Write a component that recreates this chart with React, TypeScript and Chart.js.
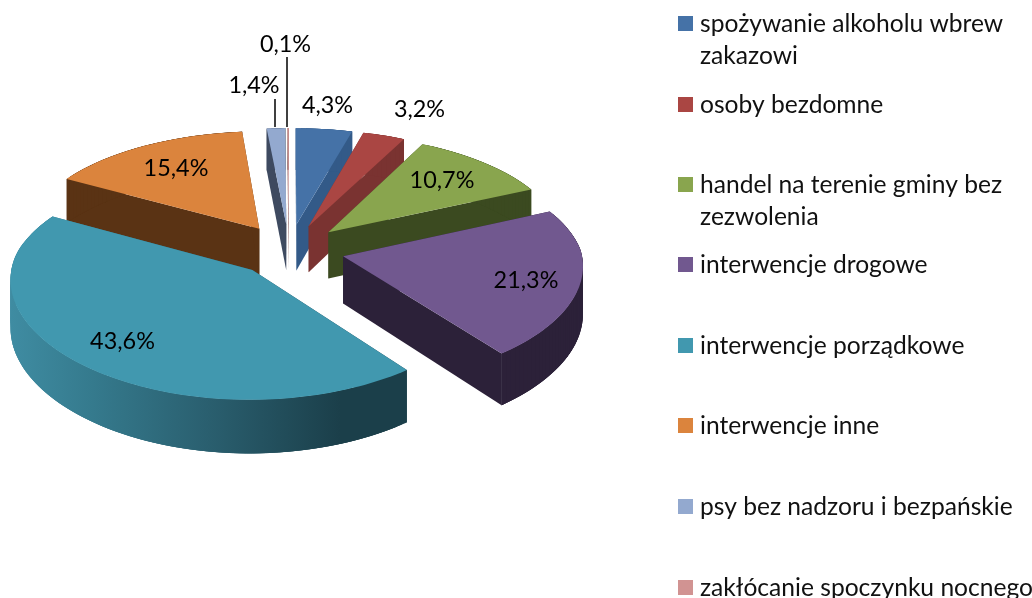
import React, { useEffect, useRef } from "react";
import { Chart, registerables } from "chart.js";

Chart.register(...registerables);

const categories = [
  ["spożywanie alkoholu wbrew", "zakazowi"],
  ["osoby bezdomne"],
  ["handel na terenie gminy bez", "zezwolenia"],
  ["interwencje drogowe"],
  ["interwencje porządkowe"],
  ["interwencje inne"],
  ["psy bez nadzoru i bezpańskie"],
  ["zakłócanie spoczynku nocnego"],
];
const values = [4.3, 3.2, 10.7, 21.3, 43.6, 15.4, 1.4, 0.1];
const topColors = ["#4572A7", "#AA4643", "#89A54E", "#71588F", "#4198AF", "#DB843D", "#93A9CF", "#D19392"];
const wallColors = ["#335A88", "#7A3331", "#3B4A20", "#2C2139", "#1B3F4A", "#5A3314", "#3E4A60", "#8A5F5E"];

// layout of the drawing, kept apart from the data
const LABEL_FONT = '23.4px Lato, "Open Sans", sans-serif';
const LEGEND_FONT = '24.6px Lato, "Open Sans", sans-serif';
const CX = 289, CY = 250, RADIUS = 238, EXPLODE = 55.5, TILT = 0.469, PERSP = 0.00044, PERSP_NEAR_X = 0.0003, DEPTH = 47;
const paintOrder = [6, 7, 5, 0, 1, 2, 3, 4];
const labelPos = [[327.5, 113], [419.5, 117], [442, 188], [526, 288], [122.5, 349], [176, 176], [254, 93], [285.5, 52]];
const leaders = [[275, 99, 127], [287, 57, 127]];
const legendSwatchY = [16, 97, 177, 257, 338, 418, 499, 580];
const legendBaselines = [[32, 64], [113], [193, 225], [273], [354], [434], [515], [596]];

function project(u: number, v: number, z = 0) {
  const s = 1 / (1 + PERSP * v);
  const sx = v < 0 ? 1 / (1 + PERSP_NEAR_X * v) : s;
  return [CX + u * sx, CY - v * s * TILT + z * s];
}

function fillPoly(ctx: CanvasRenderingContext2D, poly: number[][]) {
  ctx.beginPath();
  poly.forEach((P, k) => (k === 0 ? ctx.moveTo(P[0], P[1]) : ctx.lineTo(P[0], P[1])));
  ctx.closePath();
  ctx.fill();
}

const piePlugin = {
  id: "pie3d",
  beforeDatasetsDraw(chart: any) {
    const ctx: CanvasRenderingContext2D = chart.ctx;
    const arcs = chart.getDatasetMeta(0).data;
    for (const i of paintOrder) {
      const a = arcs[i].getProps(["startAngle", "endAngle"], true);
      const t0 = a.startAngle + Math.PI / 2;
      const t1 = a.endAngle + Math.PI / 2;
      const mid = (t0 + t1) / 2;
      const ou = EXPLODE * Math.sin(mid);
      const ov = EXPLODE * Math.cos(mid);
      const rim: number[][] = [];
      const n = Math.max(2, Math.ceil((t1 - t0) * 40));
      for (let k = 0; k <= n; k++) {
        const t = t0 + ((t1 - t0) * k) / n;
        rim.push([ou + RADIUS * Math.sin(t), ov + RADIUS * Math.cos(t)]);
      }
      let wall: any = wallColors[i];
      if (i === 4) {
        const g = ctx.createLinearGradient(10, 0, 340, 0);
        g.addColorStop(0, "#3F8CA2");
        g.addColorStop(0.25, "#357A8D");
        g.addColorStop(0.6, "#2A5F6F");
        g.addColorStop(1, "#1B3F4A");
        wall = g;
      }
      const apex = [ou, ov];
      const first = rim[0];
      const last = rim[rim.length - 1];
      const quad = (p: number[], q: number[]) => [
        project(p[0], p[1]),
        project(q[0], q[1]),
        project(q[0], q[1], DEPTH),
        project(p[0], p[1], DEPTH),
      ];
      ctx.save();
      ctx.fillStyle = wall;
      fillPoly(ctx, quad(apex, first));
      fillPoly(ctx, quad(last, apex));
      // overlapping quads, so the rim wall has no seams and keeps its vertical sides
      for (let k = 0; k < rim.length - 1; k++) {
        fillPoly(ctx, quad(rim[k], rim[Math.min(k + 3, rim.length - 1)]));
      }
      ctx.fillStyle = topColors[i];
      fillPoly(ctx, [apex, ...rim].map((p) => project(p[0], p[1])));
      ctx.restore();
    }
    return false;
  },
  afterDraw(chart: any) {
    const ctx: CanvasRenderingContext2D = chart.ctx;
    ctx.save();
    ctx.font = LABEL_FONT;
    ctx.fillStyle = "#000";
    ctx.textBaseline = "alphabetic";
    ctx.textAlign = "center";
    values.forEach((v, i) => {
      ctx.fillText(v.toFixed(1).replace(".", ",") + "%", labelPos[i][0], labelPos[i][1]);
    });
    ctx.strokeStyle = "#000";
    ctx.lineWidth = 1.5;
    for (const [x, y0, y1] of leaders) {
      ctx.beginPath();
      ctx.moveTo(x, y0);
      ctx.lineTo(x, y1);
      ctx.stroke();
    }
    ctx.textAlign = "left";
    ctx.font = LEGEND_FONT;
    categories.forEach((lines, i) => {
      ctx.fillStyle = topColors[i];
      ctx.fillRect(678, legendSwatchY[i], 15, 15);
      ctx.fillStyle = "#111";
      lines.forEach((line, j) => ctx.fillText(line, 700, legendBaselines[i][j]));
    });
    ctx.restore();
  },
};

export default function App() {
  const ref = useRef<HTMLCanvasElement>(null);
  useEffect(() => {
    const chart = new Chart(ref.current as HTMLCanvasElement, {
      type: "pie",
      data: {
        labels: categories.map((c) => c.join(" ")),
        datasets: [{ data: values, backgroundColor: topColors, borderWidth: 0 }],
      },
      options: {
        responsive: false,
        animation: false,
        plugins: { legend: { display: false }, tooltip: { enabled: false } },
      },
      plugins: [piePlugin],
    } as any);
    return () => chart.destroy();
  }, []);
  return (
    <div style={{ position: "fixed", left: 0, top: 0, width: 1032, height: 598, background: "#fff" }}>
      <canvas ref={ref} width={1032} height={598} style={{ display: "block" }} />
    </div>
  );
}
